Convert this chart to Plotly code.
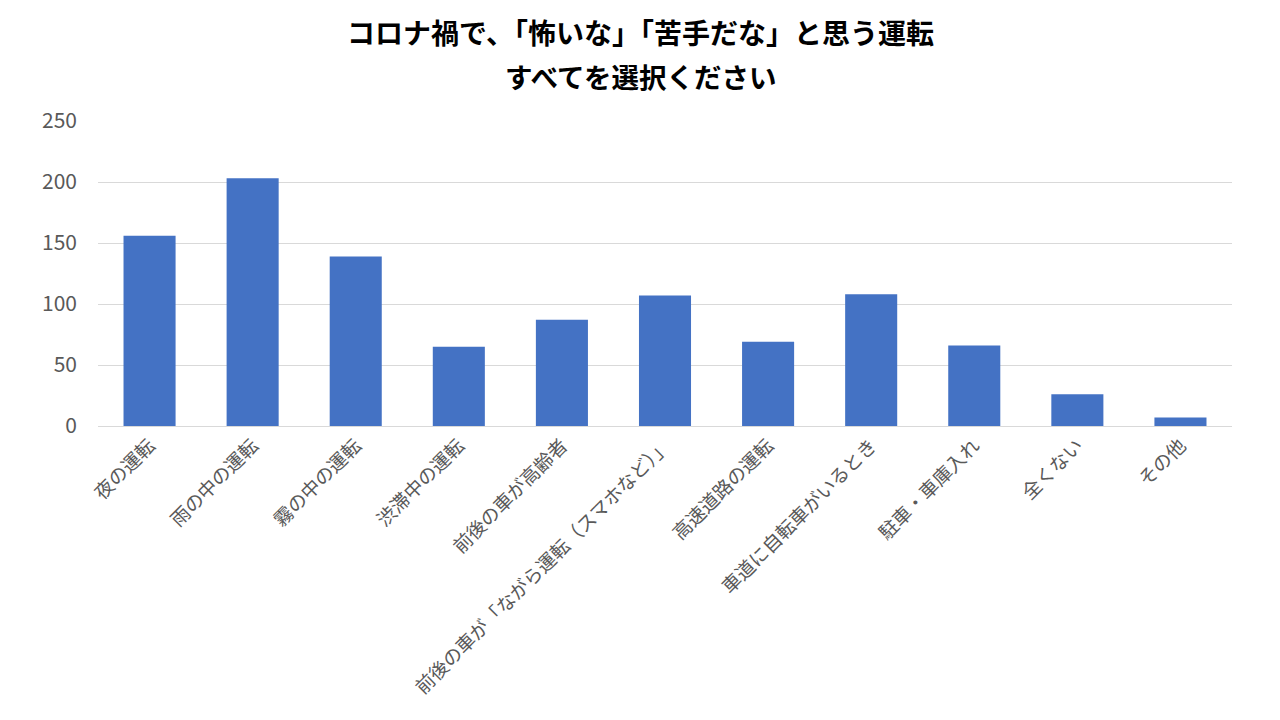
import plotly.graph_objects as go

categories = ["夜の運転", "雨の中の運転", "霧の中の運転", "渋滞中の運転", "前後の車が高齢者",
              "前後の車が「ながら運転（スマホなど）」", "高速道路の運転", "車道に自転車がいるとき",
              "駐車・車庫入れ", "全くない", "その他"]
values = [156, 203, 139, 65, 87, 107, 69, 108, 66, 26, 7]
y_ticks = [0, 50, 100, 150, 200, 250]
title_lines = ["コロナ禍で、「怖いな」「苦手だな」と思う運転", "すべてを選択ください"]

FONT = "Noto Sans CJK JP"
TITLE_X = (640 - 98) / 1134

fig = go.Figure()
fig.add_trace(go.Bar(
    x=categories, y=values,
    marker=dict(color="#4472C4", line=dict(width=0)),
))

fig.update_layout(
    width=1280, height=720,
    margin=dict(l=98, r=48, t=121, b=294),
    paper_bgcolor="white", plot_bgcolor="white",
    bargap=0.495,
    showlegend=False,
    font=dict(family=FONT, color="#595959"),
    annotations=[
        dict(text=title_lines[0], x=TITLE_X, y=(426 - 32) / 305, xref="paper", yref="paper",
             xanchor="center", yanchor="middle", showarrow=False,
             font=dict(family=FONT, size=28, color="#000000", weight="bold")),
        dict(text=title_lines[1], x=TITLE_X, y=(426 - 76) / 305, xref="paper", yref="paper",
             xanchor="center", yanchor="middle", showarrow=False,
             font=dict(family=FONT, size=27.5, color="#000000", weight="bold")),
    ],
)
fig.update_xaxes(
    tickangle=-45, tickfont=dict(family=FONT, size=19, color="#595959"),
    showline=True, linecolor="#d9d9d9", linewidth=1, ticks="",
    range=[-0.5, len(categories) - 0.5],
)
fig.update_yaxes(
    range=[0, 250], tickvals=y_ticks, showgrid=True, gridcolor="#d9d9d9", gridwidth=1,
    zeroline=False, showline=False, ticks="",
    tickfont=dict(family=FONT, size=21, color="#595959"),
    ticklabelstandoff=20,
)
fig.write_html("out.html")
